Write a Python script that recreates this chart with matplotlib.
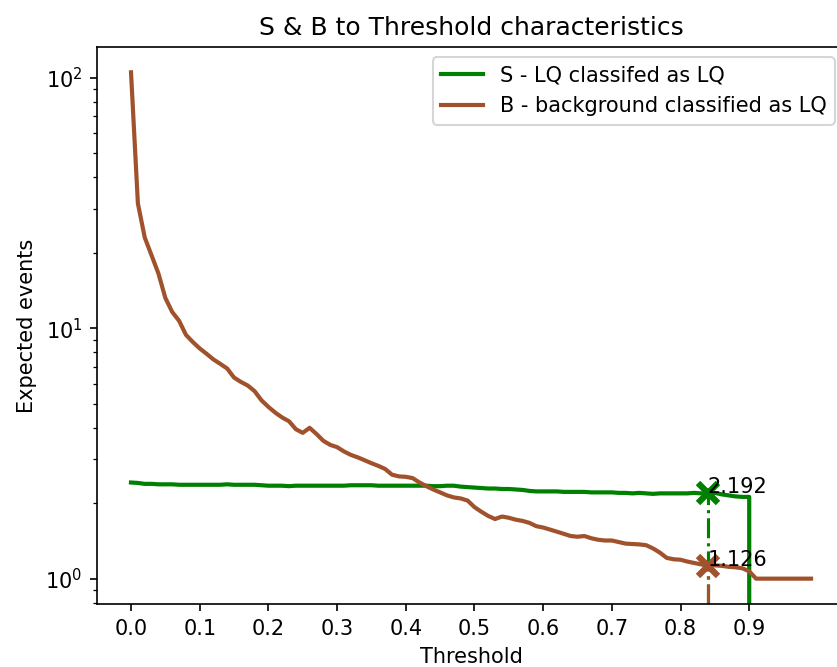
import numpy as np
import matplotlib
matplotlib.use('Agg')
import matplotlib.pyplot as plt

# thresholds 0.00 ... 0.99
thresholds = np.round(np.arange(100) * 0.01, 2)

# S - LQ classified as LQ (zero above 0.90)
signal = [2.42, 2.41, 2.39, 2.39, 2.38, 2.38, 2.38, 2.37, 2.37, 2.37,
          2.37, 2.37, 2.37, 2.37, 2.38, 2.37, 2.37, 2.37, 2.37, 2.36,
          2.35, 2.35, 2.35, 2.34, 2.35, 2.35, 2.35, 2.35, 2.35, 2.35,
          2.35, 2.35, 2.36, 2.36, 2.36, 2.36, 2.35, 2.35, 2.35, 2.35,
          2.35, 2.35, 2.35, 2.35, 2.34, 2.34, 2.35, 2.35, 2.33, 2.32,
          2.31, 2.30, 2.29, 2.29, 2.28, 2.28, 2.27, 2.26, 2.24, 2.23,
          2.23, 2.23, 2.23, 2.22, 2.22, 2.22, 2.22, 2.21, 2.21, 2.21,
          2.21, 2.20, 2.20, 2.19, 2.20, 2.19, 2.18, 2.19, 2.19, 2.19,
          2.19, 2.19, 2.20, 2.19, 2.192, 2.20, 2.17, 2.15, 2.13, 2.12,
          2.12, 0, 0, 0, 0, 0, 0, 0, 0, 0]

# B - background classified as LQ
background = [105, 31.5, 23, 19.5, 16.5, 13.2, 11.6, 10.7, 9.4, 8.8,
              8.3, 7.9, 7.5, 7.2, 6.9, 6.35, 6.1, 5.9, 5.6, 5.15,
              4.85, 4.6, 4.4, 4.25, 3.95, 3.82, 4.0, 3.78, 3.55, 3.42,
              3.35, 3.22, 3.12, 3.05, 2.97, 2.89, 2.82, 2.74, 2.6, 2.56,
              2.55, 2.52, 2.42, 2.34, 2.27, 2.21, 2.15, 2.11, 2.09, 2.05,
              1.93, 1.85, 1.78, 1.73, 1.77, 1.75, 1.72, 1.70, 1.67, 1.62,
              1.60, 1.57, 1.54, 1.51, 1.48, 1.47, 1.48, 1.45, 1.43, 1.42,
              1.42, 1.40, 1.38, 1.375, 1.37, 1.36, 1.32, 1.27, 1.21, 1.195,
              1.19, 1.17, 1.155, 1.14, 1.126, 1.13, 1.125, 1.115, 1.11, 1.10,
              1.07, 1.0, 1.0, 1.0, 1.0, 1.0, 1.0, 1.0, 1.0, 1.0]

best_thr = 0.84
best_s = 2.192
best_b = 1.126

dpi = 150
fig = plt.figure(figsize=(837 / dpi, 667 / dpi), dpi=dpi)
ax = fig.add_axes([0.1159, 0.0945, 0.8937, 0.835])

ax.plot(thresholds, signal, color='green', lw=2, label='S - LQ classifed as LQ')
ax.plot(thresholds, background, color='sienna', lw=2, label='B - background classified as LQ')
ax.set_yscale('log')
lim = ax.get_ylim()

ax.plot([best_thr, best_thr], [lim[0], best_s], color='green', ls='-.', lw=1.5)
ax.plot([best_thr, best_thr], [lim[0], best_b], color='sienna', ls='-.', lw=1.5)
ax.plot(best_thr, best_s, 'x', color='green', ms=10, mew=3)
ax.plot(best_thr, best_b, 'x', color='sienna', ms=10, mew=3)
ax.text(best_thr, best_s, '%.3f' % best_s)
ax.text(best_thr, best_b, '%.3f' % best_b)
ax.set_ylim(lim)

ax.set_xticks(np.round(np.arange(0, 1.0, 0.1), 1))
ax.set_xlabel('Threshold')
ax.set_ylabel('Expected events')
ax.set_title('S & B to Threshold characteristics')
ax.legend(loc='upper right')

fig.savefig('out.png', dpi=dpi)
